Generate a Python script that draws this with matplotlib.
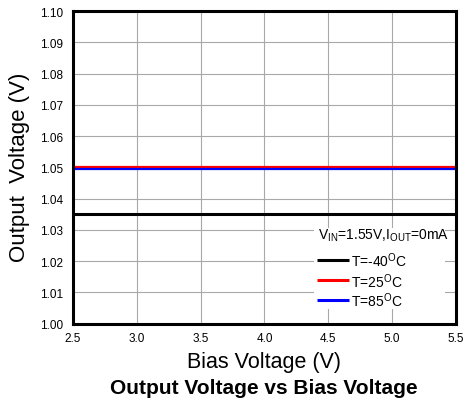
import matplotlib.pyplot as plt
from matplotlib.patches import Rectangle

plt.rcParams["font.family"] = ["Liberation Sans", "DejaVu Sans"]
plt.rcParams["mathtext.fontset"] = "custom"
plt.rcParams["mathtext.rm"] = "Liberation Sans"

# bias sweep and output voltage per temperature
BIAS_V = [2.5, 3.0, 3.5, 4.0, 4.5, 5.0, 5.5]
TEMPS = ["-40", "25", "85"]
VOUT = {
    "-40": [1.0350] * 7,
    "25": [1.0500] * 7,
    "85": [1.0493] * 7,
}
COLORS = {"-40": "black", "25": "#ff0000", "85": "#0000ff"}
WIDTHS = {"-40": 2.2, "25": 1.6, "85": 1.6}

X_TICKS = [2.5, 3.0, 3.5, 4.0, 4.5, 5.0, 5.5]
Y_TICKS = [1.00, 1.01, 1.02, 1.03, 1.04, 1.05, 1.06, 1.07, 1.08, 1.09, 1.10]

fig = plt.figure(figsize=(4.64, 4.06), dpi=100)
ax = fig.add_axes([0.1573, 0.2007, 0.8254, 0.7697])

for temp in TEMPS:
    ax.plot(BIAS_V, VOUT[temp], color=COLORS[temp], linewidth=WIDTHS[temp])

ax.set_xlim(2.5, 5.5)
ax.set_ylim(1.00, 1.10)
ax.set_xticks(X_TICKS)
ax.set_xticklabels([f"{v:.1f}" for v in X_TICKS], fontsize=8.5)
ax.set_yticks(Y_TICKS)
ax.set_yticklabels([f"{v:.2f}" for v in Y_TICKS], fontsize=8.5)
ax.tick_params(axis="x", length=0, pad=6)
ax.tick_params(axis="y", length=0, pad=7)
ax.grid(True, color="#a8a8a8", linewidth=0.8)
ax.set_axisbelow(True)
for spine in ax.spines.values():
    spine.set_linewidth(2.2)
    spine.set_color("black")

fig.text(0.569, 0.108, "Bias Voltage (V)", fontsize=15.5,
         ha="center", va="center")
fig.text(0.043, 0.589, "Output  Voltage (V)", fontsize=16,
         ha="center", va="center", rotation=90)
fig.text(0.569, 0.042, "Output Voltage vs Bias Voltage", fontsize=15,
         fontweight="bold", ha="center", va="center")

# legend block: white patch over the grid, condition line, then entries
ax.add_patch(Rectangle((0.629, 0.046), 0.342, 0.26, transform=ax.transAxes,
                       facecolor="white", edgecolor="none", zorder=3))
ax.text(0.640, 0.283,
        r"V$_{\mathregular{IN}}$=1.55V,I$_{\mathregular{OUT}}$=0mA",
        transform=ax.transAxes, fontsize=10, ha="left", va="center", zorder=4)
entry_y = [0.203, 0.138, 0.075]
for temp, y in zip(TEMPS, entry_y):
    ax.plot([0.637, 0.721], [y, y], transform=ax.transAxes,
            color=COLORS[temp], linewidth=2.2, zorder=4,
            solid_capstyle="butt")
    ax.text(0.726, y, r"T=%s$^{\mathregular{O}}$C" % temp,
            transform=ax.transAxes, fontsize=10, ha="left", va="center",
            zorder=4)

fig.savefig("out.png", dpi=100)
